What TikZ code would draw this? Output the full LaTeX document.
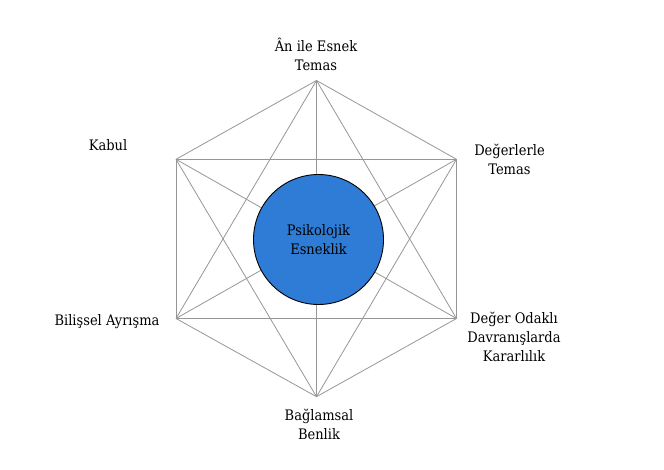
\documentclass[tikz,border=0pt]{standalone}
\usepackage{fontspec}
\setmainfont{DejaVu Serif Condensed}
\definecolor{circblue}{RGB}{46,124,214}
\definecolor{edgegray}{RGB}{150,150,150}
\begin{document}
\begin{tikzpicture}[x=1pt,y=-1pt,
  edge/.style={draw=edgegray,line width=0.8pt},
  lbl/.style={align=center,inner sep=0pt,font=\fontsize{14.5}{19}\selectfont},
  core/.style={circle,draw=black,line width=0.9pt,fill=circblue,minimum size=130pt,inner sep=0pt,align=center,font=\fontsize{14.5}{19}\selectfont}]
\useasboundingbox (0,0) rectangle (664,470);
\coordinate (v1) at (316.5,80.5);
\coordinate (v2) at (456.5,159.3);
\coordinate (v3) at (456.5,318.5);
\coordinate (v4) at (316.5,396.7);
\coordinate (v5) at (176,318.5);
\coordinate (v6) at (176,159.3);
\foreach \a/\b in {1/2,1/3,1/4,1/5,1/6,2/3,2/4,2/5,2/6,3/4,3/5,3/6,4/5,4/6,5/6}
  \draw[edge] (v\a) -- (v\b);
\node[core] (c) at (318.5,239.5) {Psikolojik\\Esneklik};
\node[lbl] (l1) at (316,54) {Ân ile Esnek\\Temas};
\node[lbl] (l2) at (509.5,159.5) {Değerlerle\\Temas};
\node[lbl] (l3) at (514,337) {Değer Odaklı\\Davranışlarda\\Kararlılık};
\node[lbl] (l4) at (319,424.5) {Bağlamsal\\Benlik};
\node[lbl] (l5) at (107,322) {Bilişsel Ayrışma};
\node[lbl] (l6) at (108,145) {Kabul};
\end{tikzpicture}
\end{document}
